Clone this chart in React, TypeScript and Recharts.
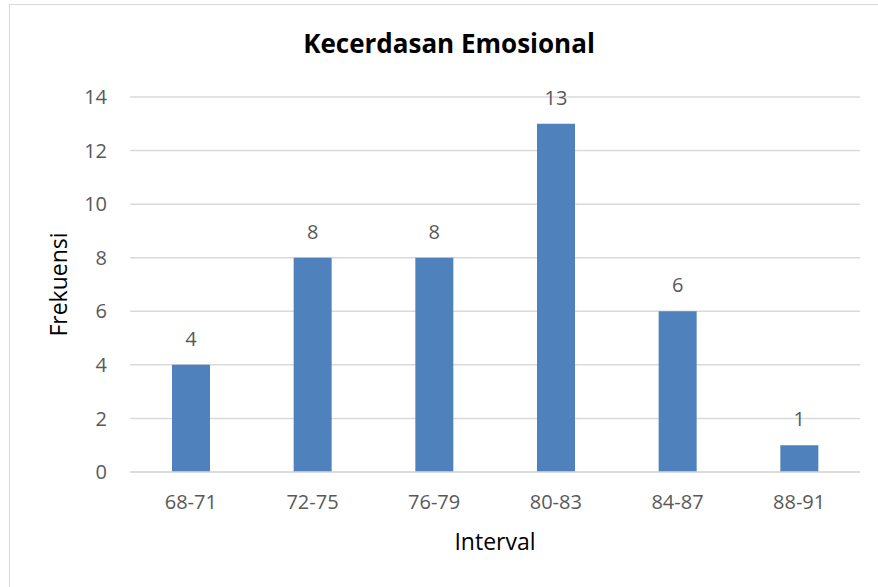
import React from 'react';
import { BarChart, Bar, XAxis, YAxis, CartesianGrid, LabelList } from 'recharts';

const intervals = ['68-71', '72-75', '76-79', '80-83', '84-87', '88-91'];
const frekuensi = [4, 8, 8, 13, 6, 1];
const yTicks = [0, 2, 4, 6, 8, 10, 12, 14];

const data = intervals.map((name, i) => ({ name, value: frekuensi[i] }));

const FONT = '"Open Sans", sans-serif';
const TEXT = '#595959';

const App: React.FC = () => {
    return (
        <div style={{ position: 'absolute', left: 0, top: 0, width: 878, height: 587, background: '#fff', fontFamily: FONT }}>
            <div style={{ position: 'absolute', left: 9, top: 4, width: 880, height: 600, border: '1px solid #d9d9d9' }} />
            <div style={{ position: 'absolute', left: 0, top: 25, width: 898, textAlign: 'center', fontSize: 26, fontWeight: 700, color: '#000' }}>
                Kecerdasan Emosional
            </div>
            <div style={{ position: 'absolute', left: 0, top: 0 }}>
                <BarChart width={878} height={587} data={data} margin={{ top: 97, right: 18, bottom: 15, left: 0 }}>
                    <CartesianGrid vertical={false} stroke="#d9d9d9" strokeWidth={1.5} />
                    <XAxis
                        dataKey="name"
                        height={100}
                        axisLine={{ stroke: '#d9d9d9', strokeWidth: 1.5 }}
                        tickLine={false}
                        tick={{ fill: TEXT, fontSize: 20, fontFamily: FONT }}
                        tickMargin={17}
                        label={{ value: 'Interval', position: 'insideBottom', offset: 22, fill: '#000', fontSize: 23, fontFamily: FONT }}
                    />
                    <YAxis
                        width={130}
                        domain={[0, 14]}
                        ticks={yTicks}
                        axisLine={false}
                        tickLine={false}
                        tick={{ fill: TEXT, fontSize: 20, fontFamily: FONT }}
                        tickMargin={17}
                        label={{ value: 'Frekuensi', angle: -90, position: 'center', dx: -6, fill: '#000', fontSize: 23, fontFamily: FONT }}
                    />
                    <Bar dataKey="value" fill="#4f81bd" barSize={38} isAnimationActive={false}>
                        <LabelList dataKey="value" position="top" offset={19} fill={TEXT} fontSize={20} fontFamily={FONT} />
                    </Bar>
                </BarChart>
            </div>
        </div>
    );
};

export default App;
